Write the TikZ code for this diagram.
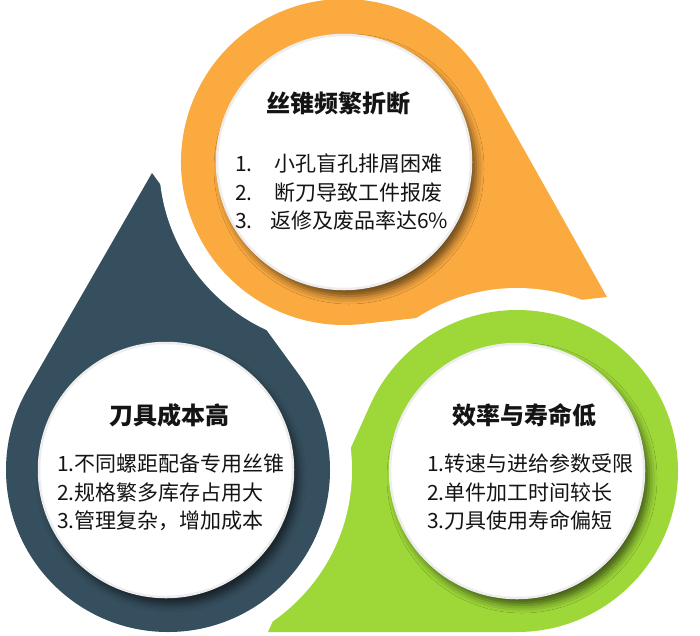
\documentclass[tikz,border=0pt]{standalone}
\usepackage{fontspec}
\newfontfamily\cjk{Noto Sans CJK SC}
\usetikzlibrary{calc,shadows.blur}
\definecolor{dropor}{HTML}{FBAA40}
\definecolor{dropdk}{HTML}{364F5E}
\definecolor{dropgr}{HTML}{9ED838}
\definecolor{txt}{HTML}{141414}
\tikzset{
  innerdisc/.style={circle, fill=white, draw=black!7, line width=2.5pt, minimum size=254pt, inner sep=0pt,
    blur shadow={shadow xshift=5pt, shadow yshift=-7pt, shadow blur radius=8pt, shadow opacity=60}},
  ttl/.style={font=\cjk\bfseries\fontsize{24pt}{28pt}\selectfont, text=txt, inner sep=0pt, anchor=base},
  itm/.style={font=\cjk\fontsize{21pt}{25pt}\selectfont, text=txt, inner sep=0pt, anchor=base west},
}
\newcommand\dropshape[4]{%
  \fill[#1] let \p1=($(#3)-(#2)$), \n1={atan2(\y1,\x1)}, \n2={veclen(\x1,\y1)}, \n3={acos(#4/\n2)} in
    (#3) -- ($(#2)+(\n1+\n3:#4pt)$) arc[start angle=\n1+\n3, end angle=\n1-\n3+360, radius=#4pt] -- cycle;
}
\begin{document}
\begin{tikzpicture}[x=1pt,y=1pt]
\useasboundingbox (0,0) rectangle (700,-635);
% centres and tips
\coordinate (orc) at (344,-162);
\coordinate (ort) at (607,-297);
\coordinate (dkc) at (168,-470);
\coordinate (dkt) at (152,-173);
\coordinate (grc) at (517,-471);
\coordinate (grt) at (268,-632);
% dark drop
\dropshape{dropdk}{dkc}{dkt}{162}
% orange drop with white halo
\fill[white] (orc) circle (185pt);
\dropshape{dropor}{orc}{ort}{163}
% green drop with white halo
\fill[white] (grc) circle (183pt);
\dropshape{dropgr}{grc}{grt}{161}
% dark circle again (cuts green tail)
\begin{scope}
  \clip (0,-400) rectangle (700,-640);
  \fill[white] (dkc) circle (184pt);
  \fill[dropdk] (dkc) circle (162pt);
\end{scope}
% inner discs
\node[innerdisc] (ordisc) at (344,-162) {};
\node[innerdisc] (dkdisc) at (166,-470) {};
\node[innerdisc] (grdisc) at (517,-471) {};
% orange texts
\node[ttl] (ortitle) at (338,-112) {丝锥频繁折断};
\node[itm] (orn1) at (235,-171) {1.};
\node[itm] (orn2) at (235,-200) {2.};
\node[itm] (orn3) at (235,-228) {3.};
\node[itm] (ori1) at (274,-171) {小孔盲孔排屑困难};
\node[itm] (ori2) at (274,-200) {断刀导致工件报废};
\node[itm] (ori3) at (270,-228) {返修及废品率达6\%};
% dark texts
\node[ttl] (dktitle) at (169,-424) {刀具成本高};
\node[itm] (dki1) at (57,-471) {1.不同螺距配备专用丝锥};
\node[itm] (dki2) at (57,-500) {2.规格繁多库存占用大};
\node[itm] (dki3) at (57,-528) {3.管理复杂，增加成本};
% green texts
\node[ttl] (grtitle) at (524,-424) {效率与寿命低};
\node[itm] (gri1) at (427,-471) {1.转速与进给参数受限};
\node[itm] (gri2) at (427,-500) {2.单件加工时间较长};
\node[itm] (gri3) at (427,-528) {3.刀具使用寿命偏短};
\end{tikzpicture}
\end{document}
